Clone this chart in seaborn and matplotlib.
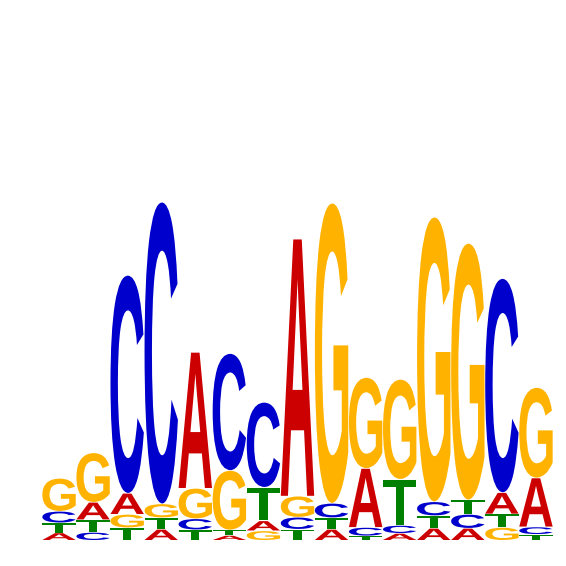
import numpy as np
import pandas as pd
import seaborn as sns
import matplotlib
matplotlib.use("Agg")
import matplotlib.pyplot as plt
from matplotlib.textpath import TextPath
from matplotlib.patches import PathPatch
from matplotlib.font_manager import FontProperties
from matplotlib.transforms import Affine2D

# Position-wise letter heights (bits)
positions = list(range(1, 16))
A = [0.044, 0.103, 0.124, 0.065, 0.800, 0.029, 0.059, 1.512, 0.065, 0.347, 0.041, 0.071, 0.071, 0.126, 0.288]
C = [0.068, 0.047, 1.282, 1.774, 0.065, 0.688, 0.500, 0.071, 0.085, 0.050, 0.047, 0.082, 0.082, 1.259, 0.044]
G = [0.194, 0.291, 0.079, 0.082, 0.179, 0.350, 0.056, 0.124, 1.765, 0.535, 0.588, 1.674, 1.509, 0.076, 0.532]
T = [0.059, 0.074, 0.074, 0.068, 0.062, 0.032, 0.197, 0.065, 0.068, 0.026, 0.271, 0.074, 0.085, 0.079, 0.035]

colors = {"A": "#CC0000", "C": "#0000CC", "G": "#FFB300", "T": "#008000"}

sns.set_theme(style="white")
fig = plt.figure(figsize=(5.66, 5.66), dpi=100)
ax = fig.add_axes([42 / 566, 26 / 566, 511 / 566, 540 / 566])

df = pd.DataFrame({"A": A, "C": C, "G": G, "T": T}, index=positions)
fp = FontProperties(family="Liberation Sans", weight="bold")
pad = 0.01
vgap = 0.004

for pos, row in df.iterrows():
    bottom = 0.0
    for letter, h in row.sort_values(kind="stable").items():
        tp = TextPath((0, 0), letter, size=1, prop=fp)
        ext = tp.get_extents()
        x0 = pos - 0.5 + pad
        w = 1 - 2 * pad
        hh = max(h - vgap, h * 0.6)
        tr = (Affine2D().translate(-ext.x0, -ext.y0)
              .scale(w / ext.width, hh / ext.height)
              .translate(x0, bottom))
        path = tr.transform_path(tp)
        ax.add_patch(PathPatch(path, facecolor=colors[letter], edgecolor="none", lw=0))
        bottom += h

ax.set_xlim(0.5, 15.5)
ax.set_ylim(0, 540 / 170)
ax.axis("off")
sns.despine(ax=ax, left=True, bottom=True)
fig.savefig("out.png", dpi=100)
